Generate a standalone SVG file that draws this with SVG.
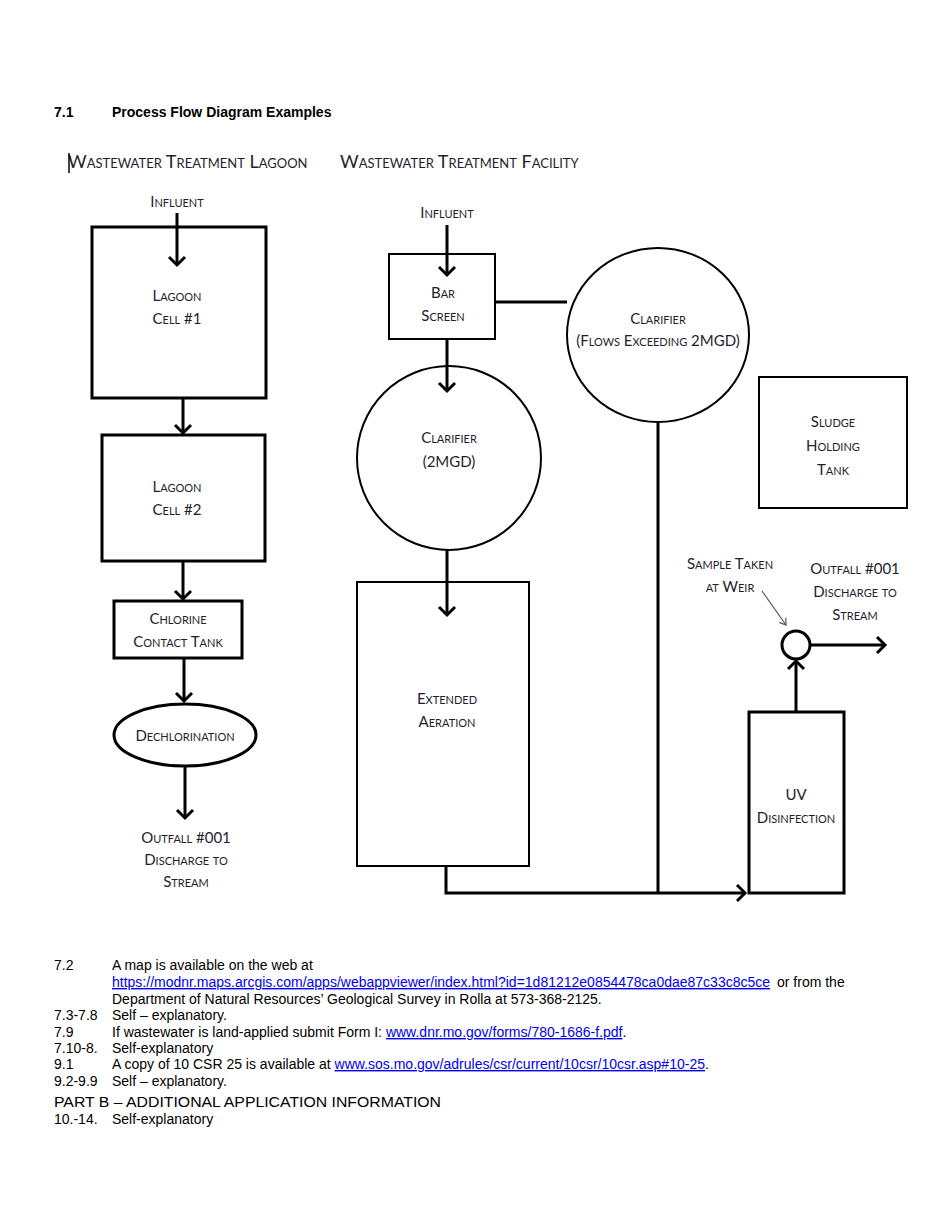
<svg xmlns="http://www.w3.org/2000/svg" width="950" height="1230" viewBox="0 0 950 1230">
<defs>
<style>
.box{fill:#fff;stroke:#000;stroke-width:3}
.thin{fill:#fff;stroke:#000;stroke-width:2}
.ln{fill:none;stroke:#000;stroke-width:3}
.lbl{font-family:Lato,"Open Sans","Liberation Sans",sans-serif;font-variant:small-caps;font-size:15px;fill:#1e1e2e;text-anchor:middle}
.hdr{font-family:Lato,"Open Sans","Liberation Sans",sans-serif;font-variant:small-caps;font-size:18px;fill:#1e1e2e}
.body{font-family:"Liberation Sans",Arial,sans-serif;font-size:14px;fill:#000}
.link{fill:#0000ee;text-decoration:underline}
</style>
<marker id="ah" markerUnits="userSpaceOnUse" markerWidth="20" markerHeight="20" refX="10" refY="10" orient="auto" viewBox="0 0 20 20">
<path d="M2,2 L10,10 L2,18" fill="none" stroke="#000" stroke-width="3"/>
</marker>
<marker id="ahs" markerUnits="userSpaceOnUse" markerWidth="12" markerHeight="12" refX="8" refY="6" orient="auto" viewBox="0 0 12 12">
<path d="M2,2 L8,6 L2,10" fill="none" stroke="#555" stroke-width="1.2"/>
</marker>
</defs>
<rect width="950" height="1230" fill="#fff"/>

<text x="54" y="117" class="body" font-weight="bold" font-size="15">7.1</text>
<text x="112" y="117" class="body" font-weight="bold" font-size="15">Process Flow Diagram Examples</text>

<text x="68" y="168" class="hdr">Wastewater Treatment Lagoon</text>
<line x1="69" y1="153" x2="69" y2="173" stroke="#000" stroke-width="1.5"/>
<text x="340" y="168" class="hdr">Wastewater Treatment Facility</text>

<g id="influent-lagoon"><text x="177" y="207" class="lbl">Influent</text></g>
<g id="lagoon1">
<rect class="box" x="92" y="227" width="174" height="171"/>
<text x="177" y="301" class="lbl">Lagoon</text>
<text x="177" y="324" class="lbl">Cell #1</text>
</g>
<g id="lagoon2">
<rect class="box" x="102" y="435" width="163" height="126"/>
<text x="177" y="492" class="lbl">Lagoon</text>
<text x="177" y="515" class="lbl">Cell #2</text>
</g>
<g id="chlorine">
<rect class="box" x="114" y="601" width="128" height="57"/>
<text x="178" y="624" class="lbl">Chlorine</text>
<text x="178" y="647" class="lbl">Contact Tank</text>
</g>
<g id="dechlor">
<ellipse class="box" cx="185" cy="735" rx="71" ry="31"/>
<text x="185" y="741" class="lbl">Dechlorination</text>
</g>
<g id="outfall-lagoon">
<text x="186" y="843" class="lbl">Outfall #001</text>
<text x="186" y="865" class="lbl">Discharge to</text>
<text x="186" y="887" class="lbl">Stream</text>
</g>

<g id="influent-facility"><text x="447" y="218" class="lbl">Influent</text></g>
<g id="barscreen">
<rect class="thin" x="389" y="254" width="106" height="85"/>
<text x="443" y="298" class="lbl">Bar</text>
<text x="443" y="321" class="lbl">Screen</text>
</g>
<g id="clarifier-flows">
<ellipse class="thin" cx="658" cy="335" rx="91" ry="87"/>
<text x="658" y="324" class="lbl">Clarifier</text>
<text x="658" y="346" class="lbl">(Flows Exceeding 2MGD)</text>
</g>
<g id="clarifier-2mgd">
<ellipse class="thin" cx="449" cy="458" rx="92" ry="92"/>
<text x="449" y="443" class="lbl">Clarifier</text>
<text x="449" y="467" class="lbl">(2MGD)</text>
</g>
<g id="sludge">
<rect class="thin" x="759" y="377" width="148" height="131"/>
<text x="833" y="427" class="lbl">Sludge</text>
<text x="833" y="451" class="lbl">Holding</text>
<text x="833" y="475" class="lbl">Tank</text>
</g>
<g id="aeration">
<rect class="thin" x="357" y="582" width="172" height="284"/>
<text x="447" y="704" class="lbl">Extended</text>
<text x="447" y="727" class="lbl">Aeration</text>
</g>
<g id="uv">
<rect class="box" x="749" y="712" width="95" height="181"/>
<text x="796" y="800" class="lbl">UV</text>
<text x="796" y="823" class="lbl">Disinfection</text>
</g>
<g id="weir">
<circle cx="796" cy="645" r="14" fill="#fff" stroke="#000" stroke-width="3"/>
</g>
<g id="sample-label">
<text x="730" y="569" class="lbl">Sample Taken</text>
<text x="730" y="592" class="lbl">at Weir</text>
</g>
<g id="outfall-facility">
<text x="855" y="574" class="lbl">Outfall #001</text>
<text x="855" y="597" class="lbl">Discharge to</text>
<text x="855" y="620" class="lbl">Stream</text>
</g>

<g id="connectors">
<path class="ln" d="M177,213 V265" marker-end="url(#ah)"/>
<path class="ln" d="M183,398 V433" marker-end="url(#ah)"/>
<path class="ln" d="M183,561 V599" marker-end="url(#ah)"/>
<path class="ln" d="M184,658 V701" marker-end="url(#ah)"/>
<path class="ln" d="M185,766 V818" marker-end="url(#ah)"/>
<path class="ln" d="M447,225 V275" marker-end="url(#ah)"/>
<path class="ln" d="M495,302 H567"/>
<path class="ln" d="M447,339 V391" marker-end="url(#ah)"/>
<path class="ln" d="M447,550 V615" marker-end="url(#ah)"/>
<path class="ln" d="M658,422 V893"/>
<path class="ln" d="M446,866 V893 H745" marker-end="url(#ah)"/>
<path class="ln" d="M796,712 V661" marker-end="url(#ah)"/>
<path class="ln" d="M811,645 H885" marker-end="url(#ah)"/>
<path d="M762,591 L786,625" fill="none" stroke="#555" stroke-width="1.2" marker-end="url(#ahs)"/>
</g>

<g id="notes">
<text x="54" y="970" class="body">7.2</text>
<text x="112" y="970" class="body">A map is available on the web at</text>
<text x="112" y="987" class="body"><tspan class="link">https://modnr.maps.arcgis.com/apps/webappviewer/index.html?id=1d81212e0854478ca0dae87c33c8c5ce</tspan></text>
<text x="777" y="987" class="body">or from the</text>
<text x="112" y="1004" class="body">Department of Natural Resources’ Geological Survey in Rolla at 573-368-2125.</text>
<text x="54" y="1020" class="body">7.3-7.8</text>
<text x="112" y="1020" class="body">Self – explanatory.</text>
<text x="54" y="1037" class="body">7.9</text>
<text x="112" y="1037" class="body">If wastewater is land-applied submit Form I: <tspan class="link">www.dnr.mo.gov/forms/780-1686-f.pdf</tspan>.</text>
<text x="54" y="1053" class="body">7.10-8.</text>
<text x="112" y="1053" class="body">Self-explanatory</text>
<text x="54" y="1069" class="body">9.1</text>
<text x="112" y="1069" class="body">A copy of 10 CSR 25 is available at <tspan class="link">www.sos.mo.gov/adrules/csr/current/10csr/10csr.asp#10-25</tspan>.</text>
<text x="54" y="1086" class="body">9.2-9.9</text>
<text x="112" y="1086" class="body">Self – explanatory.</text>
<text x="54" y="1107" class="body" font-size="17" textLength="387" lengthAdjust="spacingAndGlyphs">PART B – ADDITIONAL APPLICATION INFORMATION</text>
<text x="54" y="1124" class="body">10.-14.</text>
<text x="112" y="1124" class="body">Self-explanatory</text>
</g>
</svg>
